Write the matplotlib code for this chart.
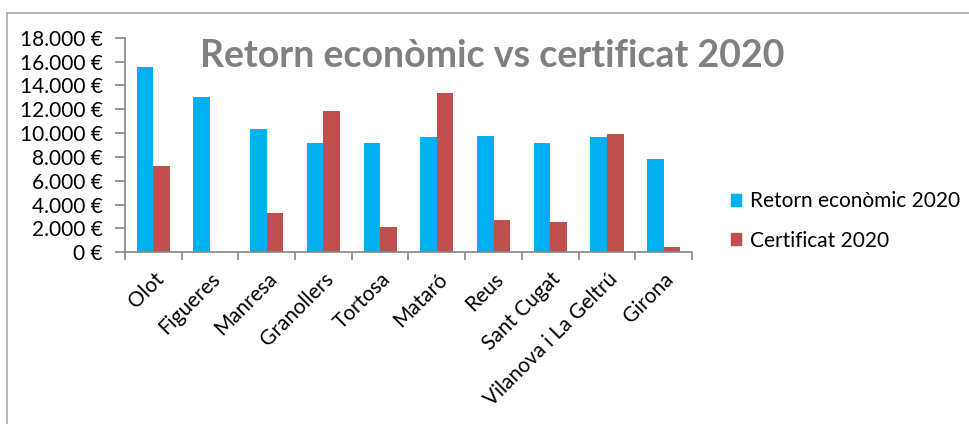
import matplotlib
matplotlib.use("Agg")
import matplotlib.pyplot as plt
import numpy as np
from matplotlib.lines import Line2D
from matplotlib.patches import Patch
from matplotlib.ticker import FuncFormatter

plt.rcParams['font.family'] = ['Lato', 'DejaVu Sans']

# data
ciutats = ['Olot', 'Figueres', 'Manresa', 'Granollers', 'Tortosa', 'Mataró',
           'Reus', 'Sant Cugat', 'Vilanova i La Geltrú', 'Girona']
retorn = [15550, 13000, 10350, 9150, 9200, 9700, 9750, 9150, 9700, 7800]
certificat = [7250, 0, 3300, 11850, 2100, 13400, 2750, 2500, 9900, 450]

blau = '#00B0F0'
vermell = '#C0504D'
gris = '#868686'

fig = plt.figure(figsize=(9.7, 4.24), dpi=100)
ax = fig.add_axes([125/970, 1-252.3/424, (692-125)/970, (252.3-37.7)/424])

x = np.arange(len(ciutats))
w = 0.293
ax.bar(x - w/2, retorn, w, color=blau, label='Retorn econòmic 2020')
ax.bar(x + w/2, certificat, w, color=vermell, label='Certificat 2020')

ax.set_xlim(-0.5, len(ciutats) - 0.5)
ax.set_ylim(0, 18000)
ax.set_yticks(np.arange(0, 18001, 2000))
ax.yaxis.set_major_formatter(FuncFormatter(lambda v, p: f"{int(v):,} €".replace(',', '.')))

# tick marks between categories, labels at centres
ax.set_xticks(np.arange(-0.5, len(ciutats), 1.0))
ax.set_xticklabels([])
ax.set_xticks(x, minor=True)
ax.set_xticklabels(ciutats, minor=True, rotation=45, ha='right',
                   rotation_mode='anchor', fontsize=15)
ax.tick_params(axis='x', which='minor', length=0, pad=12)
ax.tick_params(axis='x', which='major', length=6, color=gris, width=1.2)
ax.tick_params(axis='y', length=7, color=gris, width=1.2, labelsize=15, pad=9)

for s in ['top', 'right']:
    ax.spines[s].set_visible(False)
for s in ['left', 'bottom']:
    ax.spines[s].set_color(gris)
    ax.spines[s].set_linewidth(1.2)

fig.text(492/970, 1-56/424, 'Retorn econòmic vs certificat 2020', ha='center', va='center',
         fontsize=27, fontweight='bold', color='#808080')

handles = [Patch(color=blau), Patch(color=vermell)]
fig.legend(handles, ['Retorn econòmic 2020', 'Certificat 2020'], loc='center left',
           bbox_to_anchor=(731/970, 1-221/424), frameon=False, fontsize=15,
           handlelength=0.5, handleheight=0.5, handletextpad=0.4, labelspacing=0.92,
           borderpad=0, borderaxespad=0)

# outer chart frame
fig.add_artist(Line2D([7.5/970, 1], [1-13/424, 1-13/424], color='#a6a6a6', lw=1.2))
fig.add_artist(Line2D([7.5/970, 7.5/970], [0, 1-13/424], color='#a6a6a6', lw=1.2))

fig.savefig('out.png', dpi=100)
